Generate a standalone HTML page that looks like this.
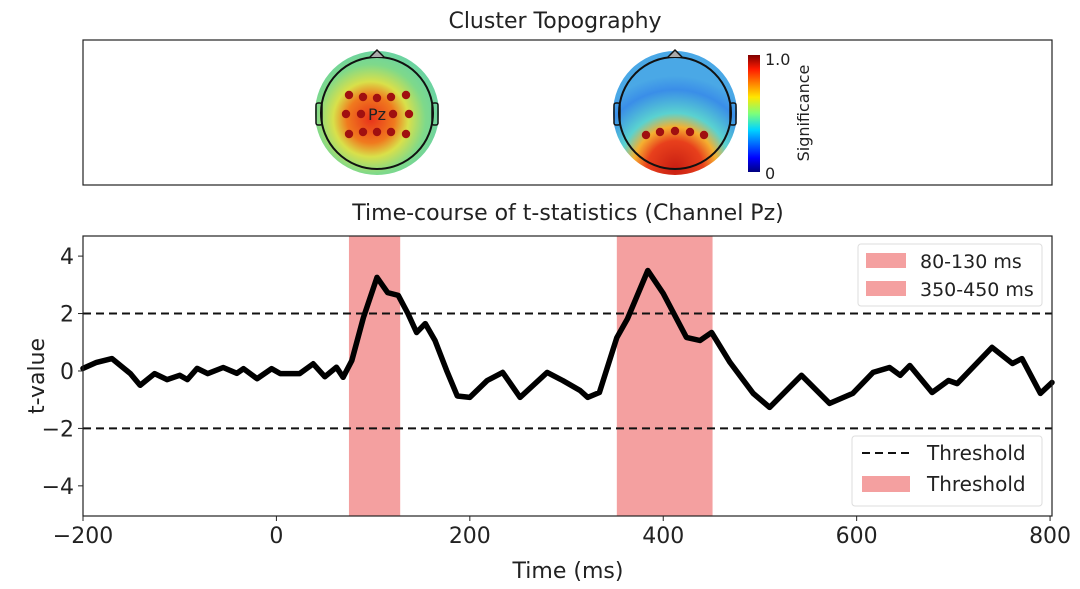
<!DOCTYPE html>
<html><head><meta charset="utf-8"><style>
html,body{margin:0;padding:0;background:#fff;}
svg{display:block;font-family:"DejaVu Sans","Liberation Sans",sans-serif;}
</style></head><body>
<svg width="1080" height="589" viewBox="0 0 1080 589">
<defs>
<radialGradient id="g1" cx="0.45" cy="0.55" r="0.55">
<stop offset="0" stop-color="#e8321a"/><stop offset="0.35" stop-color="#f07a1e"/><stop offset="0.55" stop-color="#d9e04a"/><stop offset="0.8" stop-color="#7fd98a"/><stop offset="1" stop-color="#6cd3a0"/></radialGradient>
<radialGradient id="g2" cx="0.5" cy="0.95" r="0.75">
<stop offset="0" stop-color="#c81e12"/><stop offset="0.3" stop-color="#e8401c"/><stop offset="0.45" stop-color="#f5b030"/><stop offset="0.6" stop-color="#5ad2d0"/><stop offset="0.85" stop-color="#3a8ee8"/><stop offset="1" stop-color="#4aa8e6"/></radialGradient>
<linearGradient id="cb" x1="0" y1="1" x2="0" y2="0">
<stop offset="0" stop-color="#00007f"/><stop offset="0.12" stop-color="#0000ff"/><stop offset="0.36" stop-color="#00d4ff"/><stop offset="0.5" stop-color="#7dff7a"/><stop offset="0.64" stop-color="#ffe600"/><stop offset="0.88" stop-color="#ff1a00"/><stop offset="1" stop-color="#7f0000"/></linearGradient>
</defs>
<text x="555" y="28" text-anchor="middle" font-size="22" fill="#222">Cluster Topography</text>
<rect x="83" y="40" width="969" height="145" fill="none" stroke="#222" stroke-width="1.2"/>
<g>
<circle cx="377" cy="113" r="62" fill="url(#g1)"/>
<circle cx="377" cy="113" r="56" fill="none" stroke="#111" stroke-width="2"/>
<path d="M370 57 L377 50 L384 57" fill="#aaa" stroke="#111" stroke-width="1.5"/>
<rect x="316" y="103" width="6" height="22" rx="2" fill="none" stroke="#111" stroke-width="1.5"/>
<rect x="432" y="103" width="6" height="22" rx="2" fill="none" stroke="#111" stroke-width="1.5"/>
<g fill="#a01010">
<circle cx="349" cy="95" r="4.2"/><circle cx="363" cy="97" r="4.2"/><circle cx="377" cy="98" r="4.2"/><circle cx="391" cy="97" r="4.2"/><circle cx="406" cy="95" r="4.2"/>
<circle cx="346" cy="114" r="4.2"/><circle cx="361" cy="114" r="4.2"/><circle cx="393" cy="114" r="4.2"/><circle cx="409" cy="114" r="4.2"/>
<circle cx="349" cy="134" r="4.2"/><circle cx="363" cy="132" r="4.2"/><circle cx="377" cy="132" r="4.2"/><circle cx="391" cy="132" r="4.2"/><circle cx="406" cy="134" r="4.2"/></g>
<text x="377" y="120" text-anchor="middle" font-size="16" fill="#222">Pz</text>
</g>
<g>
<circle cx="675" cy="113" r="62" fill="url(#g2)"/>
<circle cx="675" cy="113" r="56" fill="none" stroke="#111" stroke-width="2"/>
<path d="M668 57 L675 50 L682 57" fill="#aaa" stroke="#111" stroke-width="1.5"/>
<rect x="614" y="103" width="6" height="22" rx="2" fill="none" stroke="#111" stroke-width="1.5"/>
<rect x="730" y="103" width="6" height="22" rx="2" fill="none" stroke="#111" stroke-width="1.5"/>
<g fill="#a01010"><circle cx="646" cy="135" r="4.2"/><circle cx="660" cy="132" r="4.2"/><circle cx="675" cy="131" r="4.2"/><circle cx="690" cy="132" r="4.2"/><circle cx="704" cy="135" r="4.2"/></g>
</g>
<rect x="748" y="55" width="12" height="117" fill="url(#cb)"/>
<text x="765" y="65" font-size="16" fill="#222">1.0</text>
<text x="765" y="179" font-size="16" fill="#222">0</text>
<text transform="translate(809,113) rotate(-90)" text-anchor="middle" font-size="16" fill="#222">Significance</text>

<text x="568" y="220" text-anchor="middle" font-size="22" fill="#222">Time-course of t-statistics (Channel Pz)</text>
<g id="plot"></g>
<text x="568" y="578" text-anchor="middle" font-size="22" fill="#222">Time (ms)</text>
<text transform="translate(44,376) rotate(-90)" text-anchor="middle" font-size="22" fill="#222">t-value</text>
</svg>
<script>
const times=[-200,-186,-170,-151,-141,-126,-113,-100,-92,-82,-71,-55,-41,-34,-20,-5,4,24,38,50,62,69,78,90,104,115,126,136,145,154,164,176,187,200,218,234,252,280,296,314,322,334,352,363,384,400,424,438,450,469,493,510,543,572,596,617,634,645,655,678,695,704,740,761,771,790,802];
const tvals=[0.09,0.3,0.43,-0.09,-0.5,-0.09,-0.3,-0.15,-0.3,0.09,-0.09,0.12,-0.08,0.08,-0.27,0.08,-0.09,-0.09,0.25,-0.2,0.13,-0.22,0.36,1.86,3.26,2.73,2.63,2.0,1.34,1.65,1.06,0.02,-0.87,-0.92,-0.33,-0.05,-0.92,-0.05,-0.33,-0.68,-0.92,-0.75,1.16,1.82,3.5,2.7,1.17,1.06,1.34,0.3,-0.78,-1.27,-0.15,-1.13,-0.78,-0.05,0.12,-0.15,0.19,-0.75,-0.33,-0.44,0.82,0.26,0.43,-0.78,-0.4];
const spans=[[75,128],[352,451]];
const spanLabels=["80-130 ms","350-450 ms"];
const thresholds=[2,-2];
const xTicks=[-200,0,200,400,600,800];
const yTicks=[-4,-2,0,2,4];
const X0=83,X1=1052,Y0=236,Y1=516,xmin=-200,xmax=802,ymin=-5.05,ymax=4.7;
const sx=v=>X0+(v-xmin)/(xmax-xmin)*(X1-X0);
const sy=v=>Y1-(v-ymin)/(ymax-ymin)*(Y1-Y0);
const NS="http://www.w3.org/2000/svg",g=document.getElementById('plot');
function mk(t,a,p){const e=document.createElementNS(NS,t);for(const k in a)e.setAttribute(k,a[k]);(p||g).appendChild(e);return e;}
spans.forEach((s,i)=>{const r=mk('rect',{x:sx(s[0]),y:Y0,width:sx(s[1])-sx(s[0]),height:Y1-Y0,fill:'#f4a0a0'});

});
thresholds.forEach(t=>{const l=mk('line',{x1:X0,x2:X1,y1:sy(t),y2:sy(t),stroke:'#111','stroke-width':2,'stroke-dasharray':'8,5'});

});
const d=times.map((t,i)=>(i?'L':'M')+sx(t).toFixed(1)+' '+sy(tvals[i]).toFixed(1)).join(' ');
const p=mk('path',{d:d,fill:'none',stroke:'#000','stroke-width':5.5,'stroke-linejoin':'round','stroke-linecap':'round'});


const fr=mk('rect',{x:X0,y:Y0,width:X1-X0,height:Y1-Y0,fill:'none',stroke:'#222','stroke-width':1.2});


xTicks.forEach(v=>{mk('line',{x1:sx(v),x2:sx(v),y1:Y1,y2:Y1+5,stroke:'#222'});
const t=mk('text',{x:sx(v),y:Y1+27,'text-anchor':'middle','font-size':22,fill:'#222'});t.textContent=v<0?'\u2212'+(-v):v;

});
yTicks.forEach(v=>{mk('line',{x1:X0-5,x2:X0,y1:sy(v),y2:sy(v),stroke:'#222'});
const t=mk('text',{x:X0-9,y:sy(v)+8,'text-anchor':'end','font-size':22,fill:'#222'});t.textContent=v<0?'\u2212'+(-v):v;

});
const lg1=mk('g',{});


mk('rect',{x:858,y:244,width:184,height:62,rx:3,fill:'#fff','fill-opacity':0.85,stroke:'#ddd'},lg1);
spanLabels.forEach((s,i)=>{mk('rect',{x:866,y:253+i*28,width:40,height:15,fill:'#f4a0a0'},lg1);
const t=mk('text',{x:920,y:268+i*28,'font-size':19,fill:'#222'},lg1);t.textContent=s;});
const lg2=mk('g',{});


mk('rect',{x:852,y:436,width:190,height:70,rx:3,fill:'#fff','fill-opacity':0.85,stroke:'#ddd'},lg2);
mk('line',{x1:862,x2:910,y1:453,y2:453,stroke:'#111','stroke-width':2,'stroke-dasharray':'8,5'},lg2);
mk('rect',{x:862,y:476,width:48,height:16,fill:'#f4a0a0'},lg2);
['Threshold','Threshold'].forEach((s,i)=>{const t=mk('text',{x:927,y:460+i*31,'font-size':20,fill:'#222'},lg2);t.textContent=s;});
</script>
</body></html>
